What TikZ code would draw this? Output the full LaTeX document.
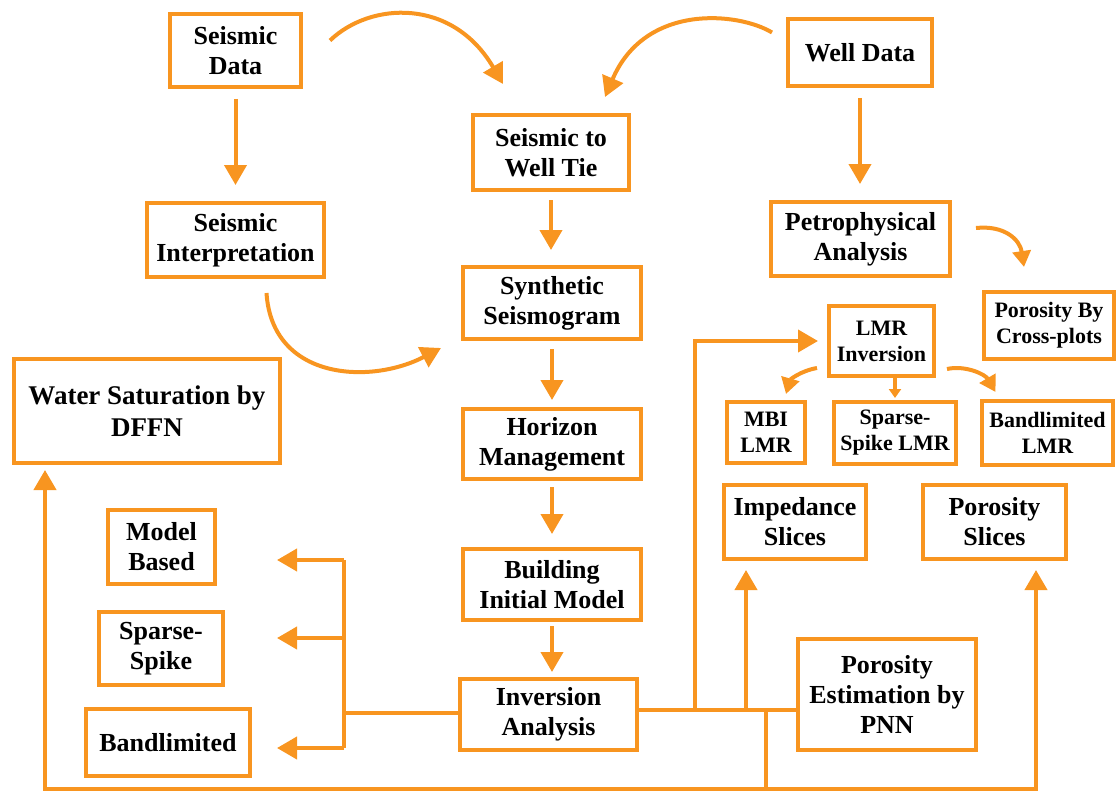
\documentclass[tikz,border=0pt]{standalone}
\usepackage{fontspec}
\setmainfont{Liberation Serif}
\usetikzlibrary{arrows.meta,calc}
\definecolor{org}{RGB}{248,149,32}
\tikzset{
  box/.style={draw=org, line width=4pt, align=center, inner sep=0pt,
    font=\fontsize{26}{30}\selectfont\bfseries},
  sbox/.style={box, font=\fontsize{22}{26}\selectfont\bfseries},
  wbox/.style={box, font=\fontsize{27}{32}\selectfont\bfseries},
  line/.style={draw=org, line width=4pt},
  arr/.style={line, -{Triangle[width=22pt,length=20pt]}},
  marr/.style={line, -{Triangle[width=18pt,length=16pt]}},
  sarr/.style={line, -{Triangle[width=12pt,length=9pt]}}
}
\newcommand\mybox[7]{%
  \node[#1, minimum width={#5-#3-4}, minimum height={#6-#4-4}] (#2)
    at ({(#3+#5)/2},{(#4+#6)/2}) {#7};}
\begin{document}
\begin{tikzpicture}[x=1pt,y=-1pt]
\useasboundingbox (0,0) rectangle (1117,792);
% boxes
\mybox{box}{sd}{168}{12}{303}{89}{Seismic\\Data}
\mybox{box}{wd}{786}{17}{934}{88}{Well Data}
\mybox{box}{tie}{471}{113}{631}{192}{Seismic to\\Well Tie}
\mybox{box}{si}{145}{201}{326}{279}{Seismic\\Interpretation}
\mybox{box}{pa}{769}{200}{952}{278}{Petrophysical\\Analysis}
\mybox{box}{ss}{461}{265}{643}{341}{Synthetic\\Seismogram}
\mybox{sbox}{pcp}{982}{290}{1116}{361}{Porosity By\\Cross-plots}
\mybox{sbox}{lmr}{827}{304}{936}{378}{LMR\\Inversion}
\mybox{wbox}{ws}{12}{357}{282}{465}{Water Saturation by\\DFFN}
\mybox{sbox}{mbi}{725}{400}{807}{465}{MBI\\LMR}
\mybox{sbox}{sslmr}{832}{400}{958}{466}{Sparse-\\Spike LMR}
\mybox{sbox}{bllmr}{980}{399}{1115}{467}{Bandlimited\\LMR}
\mybox{box}{hm}{461}{407}{643}{481}{Horizon\\Management}
\mybox{box}{imp}{722}{483}{868}{561}{Impedance\\Slices}
\mybox{box}{ps}{921}{483}{1068}{561}{Porosity\\Slices}
\mybox{box}{mb}{106}{508}{217}{586}{Model\\Based}
\mybox{box}{bim}{461}{547}{643}{622}{Building\\Initial Model}
\mybox{box}{sp}{97}{610}{225}{687}{Sparse-\\Spike}
\mybox{box}{pnn}{796}{637}{978}{752}{Porosity\\Estimation by\\PNN}
\mybox{box}{ia}{458}{677}{639}{752}{Inversion\\Analysis}
\mybox{box}{bl}{84}{707}{252}{778}{Bandlimited}
% left column
\draw[arr, shorten <=10pt, shorten >=16pt] (sd) -- (si);
\draw[arr] ($(sd.east)+(27,-10)$) .. controls (370,2) and (452,-3) .. ($(tie.north)+(-48,-29)$);
\draw[arr] ($(wd.west)+(-14,-20)$) .. controls (738,12) and (645,3) .. ($(tie.north)+(54,-16)$);
\draw[arr] ($(si.south)+(31,14)$) .. controls (272,380) and (370,385) .. ($(ss.west)+(-20,45)$);
% centre column
\draw[arr, shorten <=8pt, shorten >=15pt] (tie) -- (tie |- ss.north);
\draw[arr, shorten <=8pt, shorten >=7pt] (ss) -- (ss |- hm.north);
\draw[arr, shorten <=6pt, shorten >=13pt] (hm) -- (hm |- bim.north);
\draw[arr, shorten <=4pt, shorten >=5pt] (bim) -- (bim |- ia.north);
% right column
\draw[arr, shorten <=10pt, shorten >=16pt] (wd) -- (wd |- pa.north);
\draw[marr] ($(pa.east)+(24,-11)$) .. controls (1005,225) and (1020,240) .. ($(pcp.north)+(-25,-23)$);
\draw[marr] ($(lmr.west)+(-10,27)$) .. controls (800,371) and (790,380) .. ($(mbi.north)+(20,-6)$);
\draw[sarr, shorten >=2pt] (lmr.south -| sslmr) -- (sslmr.north);
\draw[marr] ($(lmr.east)+(11,28)$) .. controls (965,365) and (985,374) .. ($(bllmr.north)+(-52,-7)$);
% branch to inversion types
\coordinate (bj) at (344,713);
\draw[line] (ia.west |- bj) -- (bj);
\draw[line] (344,560) -- (344,748);
\draw[arr, shorten >=60pt] (344,560) -- (344,560 -| mb.east);
\draw[arr, shorten >=52pt] (344,638) -- (344,638 -| sp.east);
\draw[arr, shorten >=25pt] (344,748) -- (344,748 -| bl.east);
% outputs of inversion analysis
\coordinate (rj) at (639,710);
\draw[line] (ia.east |- rj) -- (pnn.west |- rj);
\draw[arr, shorten >=9pt, line join=miter] (695,710) |- (lmr.west);
\draw[arr, shorten >=9pt] (746,710) -- (746,561);
\coordinate (bot) at (766,789);
\draw[line] (766,710) -- (bot);
\draw[arr, shorten >=5pt, line join=miter] (bot) -- (45,789) -- (ws.south -| 45,0);
\draw[arr, shorten >=9pt, line join=miter] (bot) -- (1036,789) -- (ps.south -| 1036,0);
\end{tikzpicture}
\end{document}
